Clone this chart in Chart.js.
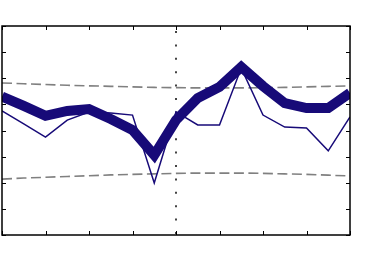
<!DOCTYPE html>
<html>
<head>
<meta charset="utf-8">
<script src="https://cdn.jsdelivr.net/npm/chart.js@4.4.1/dist/chart.umd.min.js"></script>
<style>
  html, body { margin: 0; padding: 0; background: #fff; }
  #chart { display: block; }
</style>
</head>
<body>
<canvas id="chart" width="374" height="262"></canvas>
<script>
// sample positions 0..16
var xIdx = [0,1,2,3,4,5,6,7,8,9,10,11,12,13,14,15,16];
var thickLine = [5.30,4.94,4.56,4.75,4.82,4.44,4.02,3.06,4.40,5.24,5.67,6.43,5.70,5.05,4.86,4.86,5.44];
var thinLine  = [4.75,4.25,3.75,4.40,4.71,4.67,4.59,1.99,4.71,4.21,4.21,6.39,4.59,4.13,4.10,3.22,4.52];
var upperBand = [5.82,5.79,5.76,5.73,5.71,5.69,5.67,5.65,5.64,5.63,5.63,5.63,5.64,5.65,5.67,5.69,5.71];
var lowerBand = [2.14,2.18,2.21,2.24,2.27,2.30,2.32,2.34,2.36,2.37,2.37,2.37,2.36,2.34,2.32,2.29,2.26];
var markerX = 8;
var xTicks = [0,2,4,6,8,10,12,14,16];
var yTicks = [0,1,2,3,4,5,6,7,8];

var navy = '#170a78';

function pts(arr){
  var out = [];
  for(var i = 0; i < arr.length; i++){
    out.push({x: xIdx[i], y: arr[i]});
  }
  return out;
}

// box with inward ticks on all four sides
var boxPlugin = {
  id: 'box',
  afterDatasetsDraw: function(chart){
    var c = chart.ctx, a = chart.chartArea;
    var sx = chart.scales.x, sy = chart.scales.y;
    var len = 4;
    c.save();
    c.strokeStyle = '#000';
    c.lineWidth = 1.5;
    c.strokeRect(a.left, a.top, a.right - a.left, a.bottom - a.top);
    c.lineWidth = 1;
    c.beginPath();
    xTicks.forEach(function(t){
      var px = Math.round(sx.getPixelForValue(t)) + 0.5;
      c.moveTo(px, a.bottom); c.lineTo(px, a.bottom - len);
      c.moveTo(px, a.top); c.lineTo(px, a.top + len);
    });
    yTicks.forEach(function(t){
      var py = Math.round(sy.getPixelForValue(t)) + 0.5;
      c.moveTo(a.left, py); c.lineTo(a.left + len, py);
      c.moveTo(a.right, py); c.lineTo(a.right - len, py);
    });
    c.stroke();
    c.restore();
  }
};

var ctx = document.getElementById('chart').getContext('2d');
var chart = new Chart(ctx, {
  type: 'scatter',
  data: {
    datasets: [
      {
        label: 'marker',
        data: [{x: markerX, y: yTicks[yTicks.length - 1]}, {x: markerX, y: yTicks[0]}],
        showLine: true,
        borderColor: '#444',
        borderWidth: 2,
        borderDash: [2, 11.4],
        borderDashOffset: 8.4,
        pointRadius: 0,
        order: 5
      },
      {
        label: 'upper',
        data: pts(upperBand),
        showLine: true,
        borderColor: '#808080',
        borderWidth: 1.6,
        borderDash: [10, 4.5],
        pointRadius: 0,
        order: 4
      },
      {
        label: 'lower',
        data: pts(lowerBand),
        showLine: true,
        borderColor: '#808080',
        borderWidth: 1.6,
        borderDash: [10, 4.5],
        pointRadius: 0,
        order: 3
      },
      {
        label: 'thin',
        data: pts(thinLine),
        showLine: true,
        borderColor: navy,
        borderWidth: 1.5,
        pointRadius: 0,
        order: 2
      },
      {
        label: 'thick',
        data: pts(thickLine),
        showLine: true,
        borderColor: navy,
        borderWidth: 10,
        borderJoinStyle: 'miter',
        pointRadius: 0,
        order: 1
      }
    ]
  },
  options: {
    responsive: false,
    animation: false,
    layout: {
      padding: { left: 2, top: 26, right: 24, bottom: 27 }
    },
    plugins: {
      legend: { display: false },
      tooltip: { enabled: false }
    },
    scales: {
      x: { type: 'linear', min: 0, max: 16, display: false },
      y: { type: 'linear', min: 0, max: 8, display: false }
    }
  },
  plugins: [boxPlugin]
});
</script>
</body>
</html>
